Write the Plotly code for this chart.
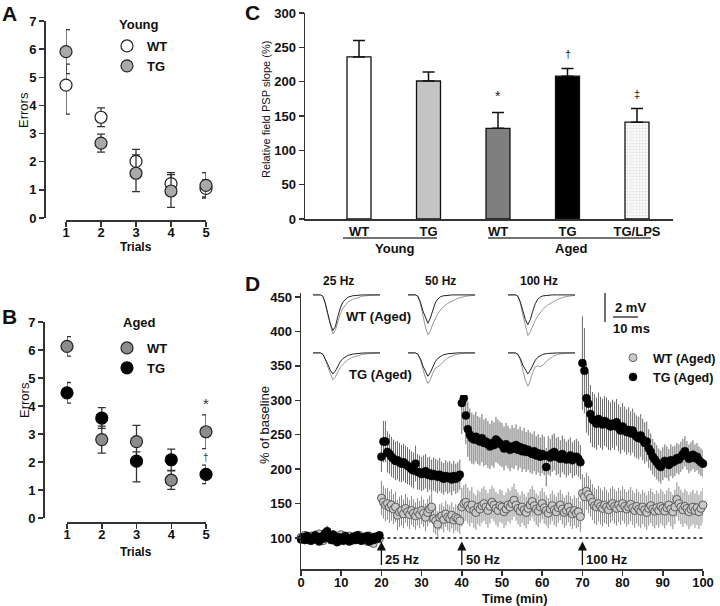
import numpy as np
import plotly.graph_objects as go

W, H = 720, 606
FONT = "Arial, Liberation Sans, Helvetica, sans-serif"


def fx(px):
    return px / W


def fy(py):
    return 1 - py / H


# ---------------- Panel A (Young) ----------------
TRIALS = [1, 2, 3, 4, 5]
A_WT = [4.72, 3.58, 2.01, 1.22, 1.05]
A_WT_ERR_UP = [0.75, 0.33, 0.43, 0.39, 0.30]
A_WT_ERR_DN = [1.03, 0.33, 0.43, 0.39, 0.30]
A_TG = [5.91, 2.66, 1.59, 0.96, 1.16]
A_TG_ERR = [0.78, 0.32, 0.65, 0.58, 0.45]

# ---------------- Panel B (Aged) ----------------
B_WT = [6.13, 2.80, 2.73, 1.35, 3.08]
B_WT_ERR = [0.35, 0.48, 0.58, 0.33, 0.60]
B_TG = [4.47, 3.57, 2.03, 2.08, 1.56]
B_TG_ERR_UP = [0.37, 0.37, 0.33, 0.38, 0.33]
B_TG_ERR_DN = [0.37, 0.37, 0.74, 0.38, 0.33]

# ---------------- Panel C (bars) ----------------
C_LABELS = ["WT", "TG", "WT", "TG", "TG/LPS"]
C_VALUES = [236, 201, 132, 208, 141]
C_ERR = [24, 13, 23, 11, 20]
C_COLORS = ["#ffffff", "#c4c4c4", "#7f7f7f", "#000000", "#e6e6e6"]
C_MARKS = ["", "", "*", "\u2020", "\u2021"]
C_GROUPS = ["Young", "Aged"]

# ---------------- Panel D (LTP time course) ----------------
SAMPLE_MIN = 0.5
TG_BASELINE = [98, 101, 97, 103, 99, 96, 100, 104, 98, 95, 102, 99, 107, 110, 100, 97, 105, 98, 94, 101,
               99, 96, 103, 100, 95, 98, 102, 97, 104, 99, 96, 101, 98, 103, 95, 100, 97, 102, 99, 104]
TG_BASELINE_ERR = [5, 4, 6, 5, 4, 6, 5, 7, 5, 4, 6, 5, 7, 8, 5, 4, 6, 5, 4, 5,
                   6, 4, 5, 6, 5, 4, 6, 5, 5, 4, 6, 5, 4, 5, 6, 5, 4, 5, 6, 5]
WT_BASELINE = [101, 99, 104, 100, 97, 103, 99, 98, 102, 106, 100, 96, 104, 108, 101, 99, 97, 103, 100, 98,
               105, 97, 101, 99, 103, 96, 100, 102, 98, 104, 97, 101, 99, 95, 103, 100, 92, 98, 101, 99]
WT_BASELINE_ERR = [4, 5, 5, 4, 6, 5, 4, 5, 6, 5, 4, 6, 5, 7, 5, 4, 6, 5, 4, 6,
                   5, 4, 6, 5, 4, 5, 6, 4, 5, 5, 4, 6, 5, 4, 5, 6, 5, 4, 5, 4]

TG_25HZ = [218, 240, 240, 225, 222, 218, 215, 212, 213, 210, 208, 210, 207, 205, 203, 200, 198, 208, 196, 195,
           193, 195, 197, 192, 194, 190, 193, 191, 189, 192, 188, 186, 190, 187, 189, 185, 190, 186, 188, 192]
TG_25HZ_ERR = [22, 30, 30, 30, 29, 29, 28, 28, 28, 28, 27, 27, 27, 27, 26, 26, 26, 26, 26, 25,
               25, 25, 25, 25, 24, 24, 24, 24, 24, 24, 23, 23, 23, 23, 23, 23, 22, 22, 22, 22]
WT_25HZ = [158, 152, 148, 150, 145, 148, 142, 145, 133, 138, 140, 135, 143, 138, 134, 140, 136, 132, 138, 134,
           140, 136, 130, 137, 142, 145, 128, 125, 120, 130, 132, 127, 135, 130, 128, 133, 126, 130, 128, 125]
WT_25HZ_ERR = [25, 24, 24, 23, 23, 23, 22, 22, 22, 22, 22, 21, 21, 21, 21, 21, 20, 20, 20, 20,
               20, 20, 20, 20, 20, 20, 20, 20, 19, 19, 19, 19, 19, 19, 19, 19, 19, 19, 19, 19]

TG_50HZ = [296, 303, 278, 258, 250, 245, 243, 247, 242, 240, 245, 238, 240, 236, 233, 238, 235, 243, 240, 237,
           235, 230, 236, 232, 228, 233, 230, 235, 228, 232, 226, 230, 225, 228, 224, 222, 226, 220, 223, 218,
           222, 219, 203, 220, 217, 223, 225, 218, 220, 215, 222, 218, 214, 217, 220, 213, 216, 218, 215, 210]
TG_50HZ_ERR = [45, 45, 42, 40, 38, 37, 36, 36, 35, 35, 35, 34, 34, 34, 33, 33, 33, 33, 32, 32,
               32, 32, 31, 31, 31, 31, 30, 30, 30, 30, 30, 30, 29, 29, 29, 29, 29, 28, 28, 28,
               28, 28, 28, 28, 27, 27, 27, 27, 27, 27, 27, 26, 26, 26, 26, 26, 26, 26, 26, 25]
WT_50HZ = [145, 150, 152, 147, 143, 148, 140, 137, 145, 142, 147, 150, 145, 140, 146, 152, 148, 143, 140, 147,
           145, 138, 142, 148, 145, 150, 155, 148, 143, 139, 145, 141, 137, 143, 148, 153, 147, 142, 139, 145,
           150, 144, 140, 136, 142, 147, 141, 138, 144, 148, 142, 137, 140, 145, 139, 135, 140, 136, 138, 131]
WT_50HZ_ERR = [28, 27, 27, 26, 26, 26, 25, 25, 25, 25, 25, 25, 25, 25, 25, 24, 24, 24, 24, 24,
               24, 24, 24, 24, 24, 24, 24, 23, 23, 23, 23, 23, 23, 23, 23, 23, 23, 23, 23, 23,
               23, 23, 22, 22, 22, 22, 22, 22, 22, 22, 22, 22, 22, 22, 22, 22, 22, 22, 22, 22]

TG_100HZ = [354, 343, 303, 295, 280, 272, 270, 266, 273, 268, 265, 270, 268, 264, 262, 266, 263, 268, 260, 256,
            262, 258, 254, 257, 252, 256, 250, 247, 245, 249, 243, 238, 240, 230, 225, 218, 214, 210, 206, 203,
            208, 212, 210, 206, 213, 210, 212, 216, 214, 218, 222, 226, 220, 215, 218, 221, 216, 218, 213, 210,
            208]
TG_100HZ_ERR = [68, 62, 50, 46, 42, 40, 39, 38, 38, 37, 37, 36, 36, 36, 35, 35, 35, 34, 34, 34,
                34, 33, 33, 33, 32, 32, 32, 31, 31, 31, 30, 30, 29, 28, 27, 26, 25, 25, 24, 24,
                24, 24, 23, 23, 23, 23, 22, 22, 22, 22, 22, 22, 21, 21, 21, 21, 20, 20, 20, 20,
                20]
WT_100HZ = [165, 160, 168, 163, 158, 152, 147, 145, 150, 146, 143, 148, 145, 141, 147, 150, 146, 143, 148, 144,
            150, 146, 142, 145, 149, 144, 140, 146, 142, 139, 145, 141, 137, 143, 147, 142, 139, 144, 140, 146,
            143, 139, 144, 148, 142, 138, 145, 156, 150, 145, 141, 146, 143, 138, 142, 145, 140, 144, 138, 143,
            148]
WT_100HZ_ERR = [28, 28, 27, 27, 27, 26, 26, 26, 26, 26, 26, 26, 25, 25, 25, 25, 25, 25, 25, 25,
                25, 25, 25, 25, 25, 25, 25, 25, 25, 25, 25, 25, 25, 25, 25, 25, 25, 25, 25, 25,
                25, 25, 25, 25, 25, 25, 25, 25, 25, 25, 25, 25, 25, 25, 25, 25, 25, 25, 25, 25,
                25]

STIM_TIMES = [20, 40, 70]
STIM_LABELS = ["25 Hz", "50 Hz", "100 Hz"]

# Inset field-potential sweeps (ms, mV)
SWEEP_MS = [0, 2, 3, 4, 5, 6, 7, 8, 9, 10, 11, 12, 13, 14, 16, 18, 20, 23, 27]
WT25_PRE = [0, 0, 0, -0.1, -0.6, -1.3, -2.0, -2.45, -2.2, -1.5, -0.9, -0.5, -0.3, -0.17, -0.06, -0.02, 0, 0, 0]
WT25_POST = [0, 0, 0, -0.1, -0.65, -1.4, -2.1, -2.7, -2.45, -1.8, -1.3, -0.95, -0.7, -0.5, -0.3, -0.17, -0.09, -0.03, 0]
WT50_PRE = [0, 0, 0, -0.1, -0.5, -1.1, -1.6, -1.95, -1.6, -1.0, -0.55, -0.28, -0.14, -0.07, -0.02, 0, 0, 0, 0]
WT50_POST = [0, 0, 0, -0.1, -0.6, -1.4, -2.2, -2.75, -2.5, -2.0, -1.6, -1.3, -1.05, -0.85, -0.58, -0.38, -0.24, -0.1, -0.02]
WT100_PRE = [0, 0, 0, -0.1, -0.5, -1.1, -1.7, -2.05, -1.7, -1.1, -0.6, -0.3, -0.15, -0.07, -0.02, 0, 0, 0, 0]
WT100_POST = [0, 0, 0, -0.1, -0.6, -1.4, -2.2, -2.8, -2.55, -2.1, -1.75, -1.45, -1.2, -1.0, -0.7, -0.48, -0.3, -0.13, -0.03]
TG25_PRE = [0, 0, 0, -0.1, -0.4, -0.8, -1.2, -1.45, -1.25, -0.9, -0.6, -0.4, -0.27, -0.18, -0.08, -0.03, -0.01, 0, 0]
TG25_POST = [0, 0, 0, -0.1, -0.45, -1.0, -1.5, -1.85, -1.65, -1.3, -1.0, -0.8, -0.62, -0.48, -0.3, -0.18, -0.1, -0.04, 0]
TG50_PRE = [0, 0, 0, -0.1, -0.4, -0.9, -1.3, -1.6, -1.35, -0.95, -0.6, -0.38, -0.24, -0.15, -0.06, -0.02, 0, 0, 0]
TG50_POST = [0, 0, 0, -0.1, -0.5, -1.1, -1.7, -2.1, -1.85, -1.4, -1.05, -0.95, -0.85, -0.65, -0.35, -0.18, -0.08, -0.02, 0]
TG100_PRE = [0, 0, 0, -0.1, -0.4, -0.85, -1.2, -1.45, -1.2, -0.8, -0.5, -0.3, -0.18, -0.1, -0.04, -0.01, 0, 0, 0]
TG100_POST = [0, 0, 0, -0.1, -0.5, -1.2, -1.9, -2.3, -1.9, -1.3, -0.95, -0.9, -0.95, -0.85, -0.5, -0.25, -0.1, -0.03, 0]

TG_PCT = TG_BASELINE + TG_25HZ + TG_50HZ + TG_100HZ
TG_PCT_ERR = TG_BASELINE_ERR + TG_25HZ_ERR + TG_50HZ_ERR + TG_100HZ_ERR
WT_PCT = WT_BASELINE + WT_25HZ + WT_50HZ + WT_100HZ
WT_PCT_ERR = WT_BASELINE_ERR + WT_25HZ_ERR + WT_50HZ_ERR + WT_100HZ_ERR
TIME_MIN = np.arange(len(TG_PCT)) * SAMPLE_MIN

fig = go.Figure()

err_style = dict(color="#333333", thickness=1.3, width=4)
# ---- A
fig.add_trace(go.Scatter(x=TRIALS, y=A_WT, mode="markers", name="WT", legend="legend",
                         marker=dict(size=12, color="white", line=dict(color="#222", width=1.2)),
                         error_y=dict(type="data", array=A_WT_ERR_UP, arrayminus=A_WT_ERR_DN, symmetric=False, **err_style),
                         xaxis="x", yaxis="y", cliponaxis=False))
fig.add_trace(go.Scatter(x=TRIALS, y=A_TG, mode="markers", name="TG", legend="legend",
                         marker=dict(size=12, color="#a9a9a9", line=dict(color="#222", width=1.2)),
                         error_y=dict(type="data", array=A_TG_ERR, **err_style),
                         xaxis="x", yaxis="y", cliponaxis=False))
# ---- B
fig.add_trace(go.Scatter(x=TRIALS, y=B_WT, mode="markers", name="WT", legend="legend2",
                         marker=dict(size=12, color="#8c8c8c", line=dict(color="#222", width=1.2)),
                         error_y=dict(type="data", array=B_WT_ERR, **err_style),
                         xaxis="x2", yaxis="y2", cliponaxis=False))
fig.add_trace(go.Scatter(x=TRIALS, y=B_TG, mode="markers", name="TG", legend="legend2",
                         marker=dict(size=12, color="#000000", line=dict(color="#000", width=1.2)),
                         error_y=dict(type="data", array=B_TG_ERR_UP, arrayminus=B_TG_ERR_DN, symmetric=False, **err_style),
                         xaxis="x2", yaxis="y2", cliponaxis=False))
# ---- C
C_X = list(range(len(C_VALUES)))
fig.add_trace(go.Bar(x=C_X, y=C_VALUES, width=0.345, showlegend=False,
                     marker=dict(color=C_COLORS, line=dict(color="#111", width=1.3),
                                 pattern=dict(shape=["", "", "", "", "."], fgcolor="#8c8c8c",
                                              bgcolor=C_COLORS, size=3, solidity=0.5)),
                     error_y=dict(type="data", array=C_ERR, arrayminus=[0] * len(C_ERR), symmetric=False,
                                  color="#111", thickness=1.5, width=6),
                     xaxis="x3", yaxis="y3"))
# ---- D
fig.add_trace(go.Scatter(x=TIME_MIN, y=WT_PCT, mode="markers", name="WT (Aged)", legend="legend3",
                         marker=dict(size=8, color="#c9c9c9", line=dict(color="#444", width=0.8)),
                         error_y=dict(type="data", array=WT_PCT_ERR, color="#8a8a8a", thickness=1, width=0),
                         xaxis="x4", yaxis="y4", cliponaxis=False))
fig.add_trace(go.Scatter(x=TIME_MIN, y=TG_PCT, mode="markers", name="TG (Aged)", legend="legend3",
                         marker=dict(size=8, color="#000000", line=dict(color="#000", width=0.5)),
                         error_y=dict(type="data", array=TG_PCT_ERR, color="#6a6a6a", thickness=1, width=0),
                         xaxis="x4", yaxis="y4", cliponaxis=False))

# ---- insets
INSET_LEFT = [313, 408, 508]
INSET_TOP = [292, 350]
INSET_W, INSET_H = 67, 45
SWEEPS = [[(WT25_PRE, WT25_POST), (WT50_PRE, WT50_POST), (WT100_PRE, WT100_POST)],
          [(TG25_PRE, TG25_POST), (TG50_PRE, TG50_POST), (TG100_PRE, TG100_POST)]]
layout_axes = {}
k = 5
for r, top in enumerate(INSET_TOP):
    for c, left in enumerate(INSET_LEFT):
        pre, post = SWEEPS[r][c]
        fig.add_trace(go.Scatter(x=SWEEP_MS, y=post, mode="lines", showlegend=False,
                                 line=dict(color="#9a9a9a", width=1.0), xaxis=f"x{k}", yaxis=f"y{k}"))
        fig.add_trace(go.Scatter(x=SWEEP_MS, y=pre, mode="lines", showlegend=False,
                                 line=dict(color="#222", width=1.0), xaxis=f"x{k}", yaxis=f"y{k}"))
        layout_axes[f"xaxis{k}"] = dict(domain=[fx(left), fx(left + INSET_W)], range=[0, 27], visible=False,
                                        anchor=f"y{k}")
        layout_axes[f"yaxis{k}"] = dict(domain=[fy(top + INSET_H), fy(top)], range=[-2.9, 0.2], visible=False,
                                        anchor=f"x{k}")
        k += 1

tickfont = dict(family=FONT, size=13, color="#111", weight="bold")
axis_common = dict(showline=True, linecolor="#333", linewidth=1.5, showgrid=False, zeroline=False,
                   automargin=False, ticks="outside", ticklen=5, tickwidth=1.5, tickcolor="#333",
                   tickfont=tickfont)
legend_common = dict(xanchor="left", yanchor="top", bgcolor="rgba(0,0,0,0)", borderwidth=0,
                     font=dict(family=FONT, size=13, color="#111", weight="bold"), itemwidth=30,
                     tracegroupgap=0)

fig.update_layout(
    template="none",
    width=W, height=H, autosize=False, margin=dict(l=0, r=0, t=0, b=0, pad=0, autoexpand=False),
    paper_bgcolor="white", plot_bgcolor="white", font=dict(family=FONT, color="#111"),
    xaxis=dict(domain=[fx(66), fx(206)], range=[1, 5], anchor="free", position=fy(220),
               tickvals=TRIALS, ticklabelstandoff=-5, **axis_common),
    yaxis=dict(domain=[fy(218), fy(21)], range=[0, 7], anchor="free", position=fx(44),
               tickvals=list(range(8)), **axis_common),
    xaxis2=dict(domain=[fx(67), fx(206)], range=[1, 5], anchor="free", position=fy(522),
                tickvals=TRIALS, ticklabelstandoff=-5, **axis_common),
    yaxis2=dict(domain=[fy(518), fy(322)], range=[0, 7], anchor="free", position=fx(43),
                tickvals=list(range(8)), **axis_common),
    xaxis3=dict(domain=[fx(305), fx(673)], range=[-0.777, 4.518], anchor="y3",
                tickvals=C_X, ticktext=C_LABELS, showline=True, linecolor="#333", linewidth=1.5,
                showgrid=False, zeroline=False, automargin=False, ticks="", tickfont=tickfont),
    yaxis3=dict(domain=[fy(219), fy(13)], range=[0, 300], anchor="x3", tickvals=list(range(0, 301, 50)),
                **axis_common),
    xaxis4=dict(domain=[fx(301), fx(703)], range=[0, 100], anchor="y4", tickvals=list(range(0, 101, 10)),
                ticklabelstandoff=-4, **axis_common),
    yaxis4=dict(domain=[fy(569), fy(293)], range=[55, 455.8], anchor="x4", tickvals=list(range(100, 451, 50)),
                **axis_common),
    legend=dict(x=fx(107), y=fy(31), **legend_common),
    legend2=dict(x=fx(107), y=fy(333), **legend_common),
    legend3=dict(x=fx(613), y=fy(343), xanchor="left", yanchor="top", bgcolor="rgba(0,0,0,0)", borderwidth=0,
                 font=dict(family=FONT, size=12.5, color="#111", weight="bold"), itemwidth=30, tracegroupgap=0),
    **layout_axes,
)

ann = []


def text(px, py, s, size=13, bold=True, angle=0, xanchor="center"):
    ann.append(dict(x=fx(px), y=fy(py), xref="paper", yref="paper", text=s, showarrow=False,
                    textangle=angle, xanchor=xanchor, yanchor="middle",
                    font=dict(family=FONT, size=size, color="#111", weight="bold" if bold else "normal")))


# panel letters
text(9, 14, "A", 21)
text(9, 316, "B", 21)
text(253, 12, "C", 21)
text(253, 283, "D", 21)
# A / B titles
text(139, 24, "Young", 13)
text(139, 322, "Aged", 13)
text(24, 110, "Errors", 13, bold=False, angle=-90)
text(24, 400, "Errors", 13, bold=False, angle=-90)
text(136, 247, "Trials", 12)
text(136, 552, "Trials", 12)
# B significance marks
ann.append(dict(x=5, y=B_WT[4] + B_WT_ERR[4] + 0.42, xref="x2", yref="y2", text="*", showarrow=False,
                font=dict(family=FONT, size=15, color="#333")))
ann.append(dict(x=5, y=B_TG[4] + B_TG_ERR_UP[4] + 0.27, xref="x2", yref="y2", text="\u2020", showarrow=False,
                font=dict(family=FONT, size=10, color="#333")))
# C
text(266, 110, "Relative field PSP slope (%)", 11, bold=False, angle=-90)
for i, m in enumerate(C_MARKS):
    if m:
        ann.append(dict(x=i, y=C_VALUES[i] + C_ERR[i] + 10, xref="x3", yref="y3", text=m, showarrow=False,
                        yanchor="bottom", font=dict(family=FONT, size=14 if m == "*" else 11, color="#222")))
text(395, 248, C_GROUPS[0], 13)
text(571, 248, C_GROUPS[1], 13)
# D
text(264, 425, "% of baseline", 13, bold=False, angle=-90)
text(515, 598, "Time (min)", 13)
for t, lab in zip(STIM_TIMES, STIM_LABELS):
    ann.append(dict(x=t, y=95, xref="x4", yref="y4", text="", showarrow=True, arrowhead=2, arrowsize=1.4,
                    arrowwidth=1.3, arrowcolor="#111", ax=0, ay=25, axref="pixel", ayref="pixel"))
    ann.append(dict(x=t, y=69, xref="x4", yref="y4", text=lab, showarrow=False, xanchor="left", xshift=2,
                    font=dict(family=FONT, size=13, color="#111", weight="bold")))
for c, lab in zip([338, 440, 539], STIM_LABELS):
    text(c, 281, lab, 12)
text(378, 316, "WT (Aged)", 13)
text(380, 374, "TG (Aged)", 13)
text(630, 307, "2 mV", 13)
text(631, 328, "10 ms", 13)

shapes = [
    dict(type="line", xref="x4", yref="y4", x0=STIM_TIMES[0], x1=100, y0=100, y1=100,
         line=dict(color="#111", width=1.6, dash="dot")),
    dict(type="line", xref="paper", yref="paper", x0=fx(343), x1=fx(437), y0=fy(238), y1=fy(238),
         line=dict(color="#444", width=1.5)),
    dict(type="line", xref="paper", yref="paper", x0=fx(488), x1=fx(651), y0=fy(238), y1=fy(238),
         line=dict(color="#444", width=1.5)),
    dict(type="line", xref="paper", yref="paper", x0=fx(605), x1=fx(605), y0=fy(293), y1=fy(322),
         line=dict(color="#222", width=1.3)),
    dict(type="line", xref="paper", yref="paper", x0=fx(613), x1=fx(638), y0=fy(317), y1=fy(317),
         line=dict(color="#222", width=1.3)),
]

fig.update_layout(annotations=ann, shapes=shapes)
fig.write_html("out.html", config={"displayModeBar": False, "staticPlot": True},
               post_script="document.body.style.margin='0';document.body.style.overflow='hidden';")
